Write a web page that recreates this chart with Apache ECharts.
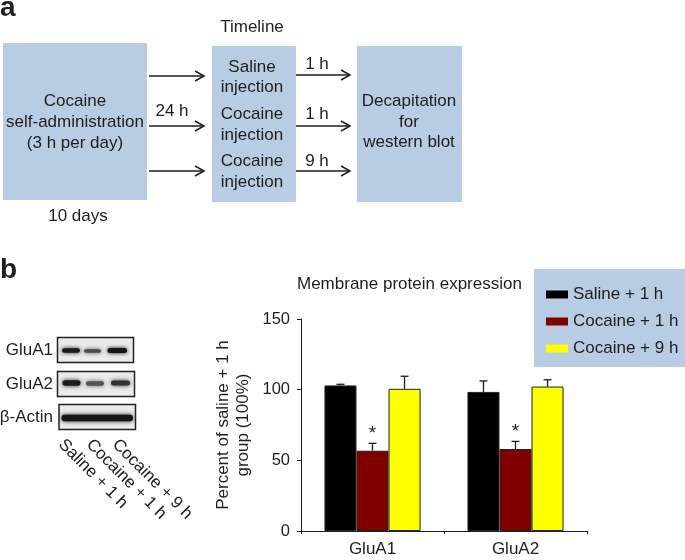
<!DOCTYPE html>
<html>
<head>
<meta charset="utf-8">
<script src="https://cdn.jsdelivr.net/npm/echarts@6/dist/echarts.min.js"></script>
<style>
html,body{margin:0;padding:0;background:#fff;}
#chart{width:685px;height:560px;}
</style>
</head>
<body>
<div id="chart"></div>
<script>
// ---- data ----
const categories = ['GluA1', 'GluA2'];
const seriesNames = ['Saline + 1 h', 'Cocaine + 1 h', 'Cocaine + 9 h'];
const salineOneH = [103.0, 98.4];
const cocaineOneH = [56.8, 58.0];
const cocaineNineH = [100.6, 102.2];
const salineOneHErr = [0.8, 7.8];
const cocaineOneHErr = [5.2, 5.4];
const cocaineNineHErr = [8.9, 4.8];
const significant = [false, true, false];
const yTicks = [0, 50, 100, 150];
const blotRows = ['GluA1', 'GluA2', 'β-Actin'];
const laneLabels = ['Saline + 1 h', 'Cocaine + 1 h', 'Cocaine + 9 h'];

const FONT = '"Liberation Sans", Arial, Helvetica, sans-serif';
const INK = '#1e1e1e';
const BOX = '#b8cce4';
const colors = ['#000000', '#800000', '#ffff00'];
const BAR_FRAC = 0.224;

const values = [salineOneH, cocaineOneH, cocaineNineH];
const errors = [salineOneHErr, cocaineOneHErr, cocaineNineHErr];

function txt(s, x, y, o) {
  o = o || {};
  return {
    type: 'text', z: 10,
    rotation: o.rotation || 0,
    x: o.rotation ? x : 0, y: o.rotation ? y : 0,
    style: {
      text: s, x: o.rotation ? 0 : x, y: o.rotation ? 0 : y,
      align: o.align || 'center', verticalAlign: o.va || 'middle',
      fontSize: o.size || 17, fontFamily: FONT, fontWeight: o.weight || 'normal', fill: INK
    }
  };
}
function arrow(x1, x2, y) {
  return [
    {type: 'polyline', z: 5, shape: {points: [[x1, y], [x2, y]]}, style: {stroke: INK, lineWidth: 1.5, fill: null}},
    {type: 'polyline', z: 5, shape: {points: [[x2 - 9, y - 5], [x2, y], [x2 - 9, y + 5]]}, style: {stroke: INK, lineWidth: 1.5, fill: null}}
  ];
}
function band(x1, x2, yc, h, color) {
  return {type: 'rect', z: 6, shape: {x: x1, y: yc - h / 2, width: x2 - x1, height: h, r: h / 2},
    style: {fill: color, shadowBlur: 4, shadowColor: color}};
}

const graphics = [];
// panel a
graphics.push(txt('a', 0, 8, {align: 'left', size: 28, weight: 'bold'}));
graphics.push({type: 'rect', shape: {x: 3, y: 43, width: 144, height: 157}, style: {fill: BOX}});
graphics.push({type: 'rect', shape: {x: 212, y: 46, width: 84, height: 156}, style: {fill: BOX}});
graphics.push({type: 'rect', shape: {x: 357, y: 46, width: 105, height: 156}, style: {fill: BOX}});
graphics.push(txt('Cocaine', 75, 101), txt('self-administration', 75, 122), txt('(3 h per day)', 75, 143));
graphics.push(txt('10 days', 78, 216));
graphics.push(txt('24 h', 172, 111));
graphics.push(txt('Timeline', 252, 27));
graphics.push(txt('Saline', 252, 67), txt('injection', 252, 87), txt('Cocaine', 252, 114),
  txt('injection', 252, 135), txt('Cocaine', 252, 161), txt('injection', 252, 182));
graphics.push(txt('1 h', 317, 64), txt('1 h', 317, 114), txt('9 h', 317, 161));
graphics.push(txt('Decapitation', 409, 101), txt('for', 409, 122), txt('western blot', 409, 142));
[76, 126, 171].forEach(y => graphics.push(...arrow(149, 204, y)));
[75, 126, 171].forEach(y => graphics.push(...arrow(296, 350, y)));

// panel b
graphics.push(txt('b', 0, 270, {align: 'left', size: 28, weight: 'bold'}));
// blot frames
const frames = [[57.5, 337.5, 76, 25], [57.5, 371.5, 77, 25], [59, 404.5, 76.5, 25]];
frames.forEach((f, i) => {
  graphics.push({type: 'rect', z: 4, shape: {x: f[0], y: f[1], width: f[2], height: f[3]},
    style: {fill: '#ebebeb', stroke: '#222', lineWidth: 1.5}});
  graphics.push(txt(blotRows[i], 53, f[1] + f[3] / 2, {align: 'right'}));
});
// bands
graphics.push(band(62, 80, 350.5, 4.5, '#1a1a1a'), band(84, 101, 351, 3.5, '#4a4a4a'), band(107.5, 127, 350.5, 5, '#141414'));
graphics.push(band(62.5, 80.5, 383, 5.5, '#1c1c1c'), band(86, 104, 383.5, 4.5, '#555555'), band(111, 130, 383, 5, '#333333'));
graphics.push(band(61.5, 133, 418, 6.5, '#151515'));
// lane labels
[[61, 442], [89, 442], [115, 442]].forEach((p, i) => {
  graphics.push(txt(laneLabels[i], p[0], p[1], {align: 'left', rotation: -Math.PI / 4}));
});

const barSeries = seriesNames.map((name, s) => ({
  name, type: 'bar', data: values[s], barWidth: (BAR_FRAC * 100) + '%', barGap: '0%',
  itemStyle: {color: colors[s], borderColor: '#222', borderWidth: 1}
}));

const errData = [];
values.forEach((arr, s) => arr.forEach((v, c) => errData.push([c, v, errors[s][c], s])));

const errSeries = {
  type: 'custom', z: 5, data: errData, encode: {x: 0, y: 1},
  renderItem(params, api) {
    const cat = api.value(0), val = api.value(1), err = api.value(2), s = api.value(3);
    const bw = api.size([1, 0])[0] * BAR_FRAC;
    const top = api.coord([cat, val]);
    const hi = api.coord([cat, val + err]);
    const x = top[0] + (s - 1) * bw;
    const st = {stroke: INK, lineWidth: 1.3};
    const children = [
      {type: 'line', shape: {x1: x, y1: top[1], x2: x, y2: hi[1]}, style: st},
      {type: 'line', shape: {x1: x - 4, y1: hi[1], x2: x + 4, y2: hi[1]}, style: st}
    ];
    if (significant[s]) {
      children.push({type: 'text', style: {text: '*', x: x, y: hi[1], align: 'center', verticalAlign: 'bottom',
        fontSize: 19, fontFamily: FONT, fill: INK}});
    }
    return {type: 'group', children};
  }
};

const chart = echarts.init(document.getElementById('chart'), null, {renderer: 'canvas'});
chart.setOption({
  animation: false,
  textStyle: {fontFamily: FONT, color: INK},
  title: {text: 'Membrane protein expression', left: 297, top: 276, padding: 0,
    textStyle: {fontSize: 17, fontWeight: 'normal', color: INK, fontFamily: FONT}},
  legend: {
    orient: 'vertical', left: 534, top: 269, padding: [17, 7, 10, 12],
    backgroundColor: BOX, itemWidth: 22, itemHeight: 8, itemGap: 10, icon: 'rect',
    data: seriesNames, itemStyle: {borderWidth: 0},
    textStyle: {fontSize: 17, color: INK, fontFamily: FONT}
  },
  grid: {left: 301, right: 98, top: 319, bottom: 29},
  xAxis: {
    type: 'category', data: categories,
    axisLine: {lineStyle: {color: INK, width: 1}},
    axisTick: {show: true, length: 3, lineStyle: {color: INK}},
    axisLabel: {fontSize: 17, color: INK, margin: 10, fontFamily: FONT}
  },
  yAxis: {
    type: 'value', min: yTicks[0], max: yTicks[yTicks.length - 1], interval: yTicks[1] - yTicks[0],
    name: 'Percent of saline + 1 h\ngroup (100%)', nameLocation: 'middle', nameGap: 48,
    nameTextStyle: {fontSize: 17, color: INK, lineHeight: 20, fontFamily: FONT},
    axisLine: {show: true, lineStyle: {color: INK, width: 1}},
    axisTick: {show: true, length: 4, lineStyle: {color: INK}},
    axisLabel: {fontSize: 16.5, color: INK, margin: 11, fontFamily: FONT},
    splitLine: {show: false}
  },
  graphic: {elements: graphics},
  series: [...barSeries, errSeries]
});
</script>
</body>
</html>
